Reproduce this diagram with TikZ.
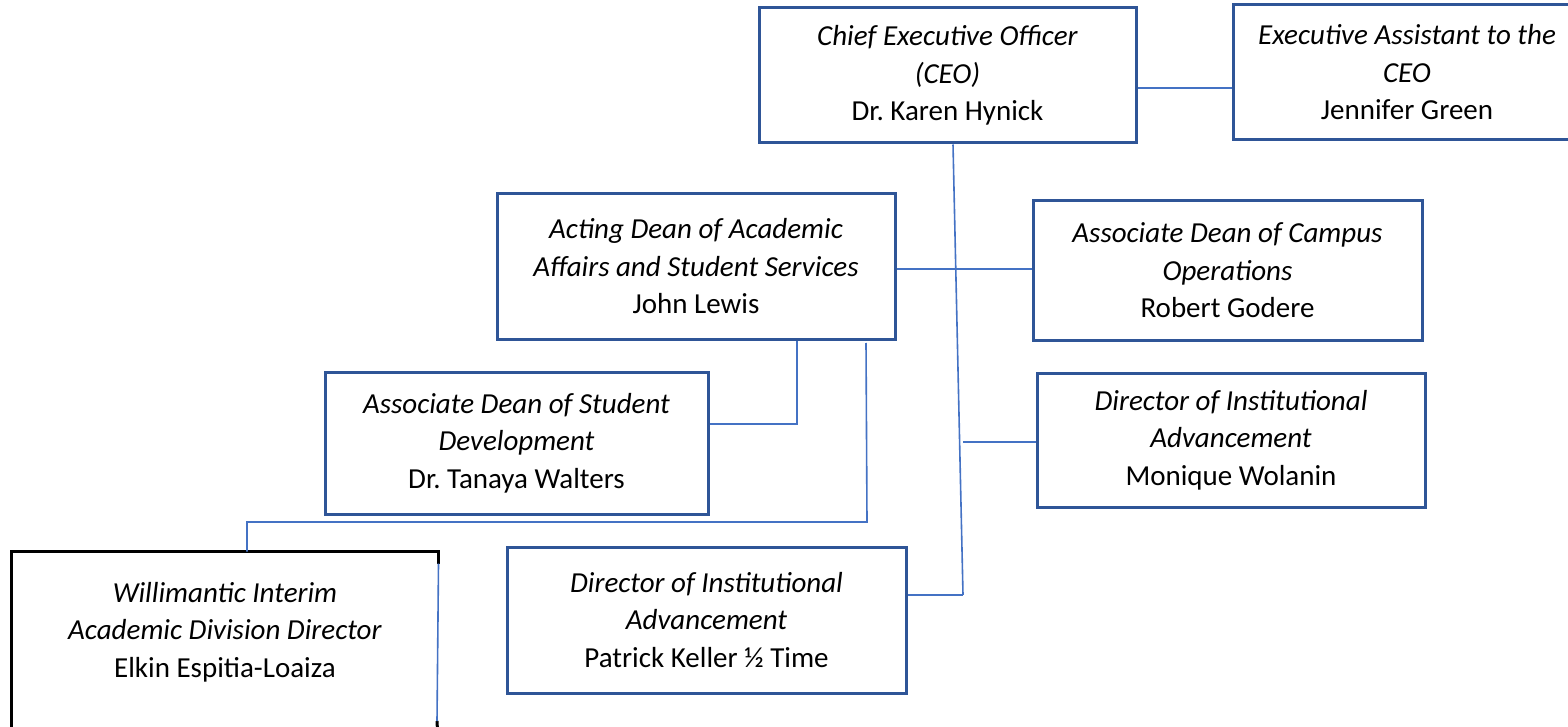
\documentclass[tikz,border=0pt]{standalone}
\usepackage{fontspec}
\setmainfont{Carlito}
\frenchspacing
\definecolor{boxblue}{RGB}{47,85,151}
\definecolor{lineblue}{RGB}{68,114,196}
\tikzset{
  post/.style={draw=boxblue, line width=3pt, align=center, inner sep=0pt,
    font=\fontsize{29}{37.5}\selectfont},
  conn/.style={lineblue, line width=1.6pt},
}
\begin{document}
\begin{tikzpicture}[x=1pt,y=-1pt]
  \useasboundingbox (0,0) rectangle (1568,727);
  \clip (0,0) rectangle (1568,727);

  % top
  \node[post, minimum width=377pt, minimum height=135pt] (ceo) at (947.5,75.5)
    {\textit{Chief Executive Officer}\\\textit{(CEO)}\\Dr. Karen Hynick};
  \node[post, minimum width=348pt, minimum height=135pt] (ea) at (1407,72.5)
    {\textit{Executive Assistant to the}\\\textit{CEO}\\Jennifer Green};

  % deans
  \node[post, minimum width=398pt, minimum height=145pt] (acad) at (696,266.5)
    {\textit{Acting Dean of Academic}\\\textit{Affairs and Student Services}\\John Lewis};
  \node[post, minimum width=389pt, minimum height=139pt] (campus) at (1227.5,270.5)
    {\textit{Associate Dean of Campus}\\\textit{Operations}\\Robert Godere};
  \node[post, minimum width=383pt, minimum height=142pt] (stud) at (516.5,443)
    {\textit{Associate Dean of Student}\\\textit{Development}\\Dr. Tanaya Walters};

  % directors
  \node[post, minimum width=388pt, minimum height=134pt] (mon) at (1231,440)
    {\textit{Director of Institutional}\\\textit{Advancement}\\Monique Wolanin};
  \node[post, minimum width=399pt, minimum height=146pt] (pat) at (706.5,620)
    {\textit{Director of Institutional}\\\textit{Advancement}\\Patrick Keller ½ Time};
  \node[post, draw=none, minimum width=424pt, minimum height=195pt] (will) at (225,650.5) {};
  \node[post, draw=none] (willtext) at (225,632)
    {\textit{Willimantic Interim}\\\textit{Academic Division Director}\\Elkin Espitia-Loaiza};
  \draw[black, line width=3pt] (will.south west) -- (will.north west) -- (will.north east) -- ++(0,12);
  \draw[black, line width=3pt] (437,721) -- (will.south east);
  \draw[conn] (will.north east) ++(0,12) -- (437,721);

  % lines
  \path (963,595) coordinate (spine);
  \path (963,442) coordinate (tee);
  \path (866,343) coordinate (drop);
  \path (867,522) coordinate (elbow);
  \draw[conn] ([xshift=5.5pt]ceo.south) -- (spine);
  \draw[conn] (ceo.east |- 0,88) -- (ea.west |- 0,88);
  \draw[conn] (acad.east |- 0,269) -- (campus.west |- 0,269);
  \draw[conn] (tee) -- (mon.west |- tee);
  \draw[conn] (pat.east |- spine) -- (spine);
  \draw[conn] (acad.south -| 797,0) |- (stud.east |- 0,424);
  \draw[conn] (drop) -- (elbow) -| ([xshift=22pt]will.north);
\end{tikzpicture}
\end{document}
